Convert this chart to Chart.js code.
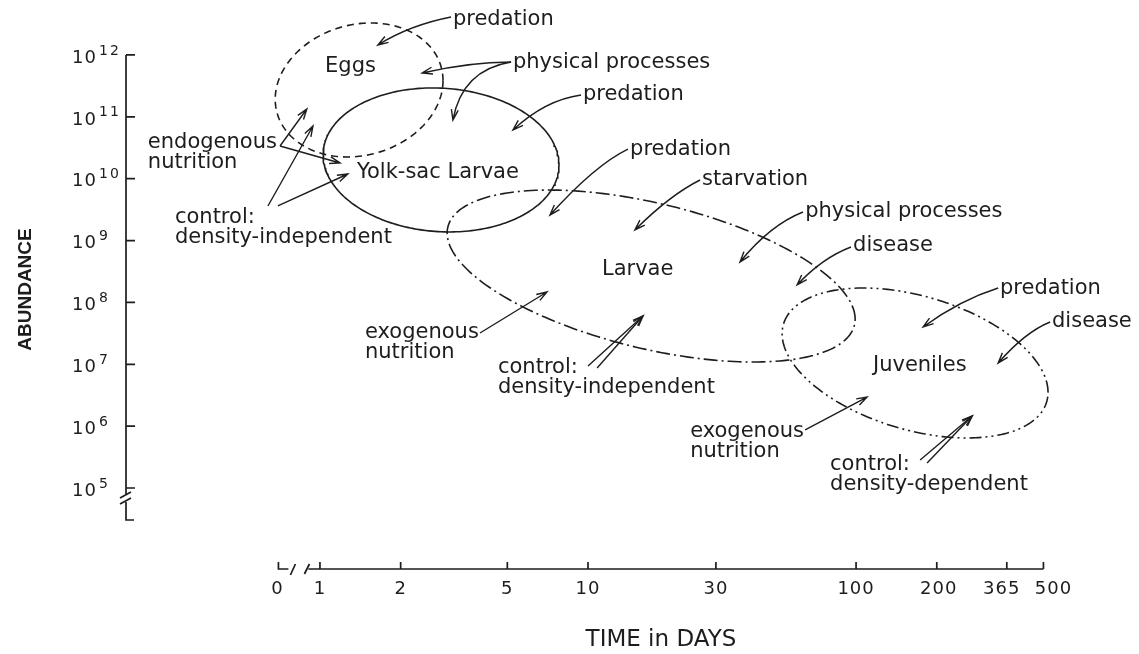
<!DOCTYPE html>
<html><head><meta charset="utf-8">
<script src="https://cdn.jsdelivr.net/npm/chart.js@4/dist/chart.umd.min.js"></script>
<style>html,body{margin:0;padding:0;background:#fff}#wrap{width:1139px;height:654px}</style>
</head><body><div id="wrap"><canvas id="c" width="1139" height="654"></canvas></div>
<script>
// ---- stage regions ----
const stageNames = ['Eggs', 'Yolk-sac Larvae', 'Larvae', 'Juveniles'];
const centerDays = [1.40, 2.83, 17.2, 166];
const centerAbundance = [2.72e11, 2.01e10, 2.67e8, 1.05e7];
const spanDecadesTime = [0.313, 0.440, 0.761, 0.496];
const spanDecadesAbundance = [1.083, 1.164, 1.390, 1.212];
const tiltDeg = [8, -4, -30, -23];
const stageDash = [[7, 5], [], [14, 4, 2, 4], [12, 4, 2, 4, 2, 4]];

// ---- axes ----
const xTickValues = [0.7, 1, 2, 5, 10, 30, 100, 200, 365, 500];
const xTickLabels = ['0', '1', '2', '5', '10', '30', '100', '200', '365', '500'];
const xLabelNudge = [-1, 0, 0, 0, 0, 0, 0, 2, -5, 10];
const yTickExponents = [5, 6, 7, 8, 9, 10, 11, 12];

// ---- annotations (log10 days, log10 abundance) ----
const noteTexts = ['predation', 'Eggs', 'physical processes', 'predation', 'Yolk-sac Larvae',
  'endogenous\nnutrition', 'control:\ndensity-independent', 'predation', 'starvation',
  'physical processes', 'disease', 'Larvae', 'exogenous\nnutrition', 'control:\ndensity-independent',
  'predation', 'disease', 'Juveniles', 'exogenous\nnutrition', 'control:\ndensity-dependent'];
const noteLogDays = [0.496, 0.019, 0.720, 0.981, 0.138, -0.642, -0.541, 1.157, 1.425, 1.810, 1.989,
  1.052, 0.168, 0.664, 2.537, 2.731, 2.063, 1.381, 1.903];
const noteLogAbund = [12.566, 11.806, 11.871, 11.353, 10.092, 10.577, 9.365, 10.464, 9.979, 9.462,
  8.912, 8.524, 7.506, 6.940, 8.217, 7.684, 6.972, 5.905, 5.372];
const arrowPaths = [
  [[0.489, 12.614], [0.336, 12.485], [0.216, 12.162]],
  [[0.713, 11.887], [0.560, 11.887], [0.381, 11.709]],
  [[0.713, 11.887], [0.530, 11.757], [0.496, 10.949]],
  [[0.974, 11.353], [0.840, 11.272], [0.720, 10.787]],
  [[-0.149, 10.529], null, [-0.049, 11.127]],
  [[-0.149, 10.529], null, [0.075, 10.254]],
  [[-0.194, 9.559], null, [-0.026, 10.852]],
  [[-0.157, 9.559], null, [0.104, 10.076]],
  [[1.149, 10.480], [1.026, 10.222], [0.858, 9.413]],
  [[1.418, 9.979], [1.306, 9.737], [1.175, 9.171]],
  [[1.802, 9.462], [1.679, 9.252], [1.567, 8.654]],
  [[1.981, 8.896], [1.873, 8.718], [1.780, 8.282]],
  [[0.597, 7.506], null, [0.847, 8.169]],
  [[1.000, 6.972], null, [1.205, 7.781]],
  [[1.034, 6.940], null, [1.205, 7.781]],
  [[2.530, 8.233], [2.388, 8.039], [2.250, 7.603]],
  [[2.724, 7.684], [2.631, 7.522], [2.530, 7.021]],
  [[1.810, 5.938], null, [2.041, 6.471]],
  [[2.239, 5.453], null, [2.433, 6.164]],
  [[2.265, 5.404], null, [2.433, 6.164]]
];

const INK = '#1d1d1d';
const FONT = '"DejaVu Sans", "Liberation Sans", sans-serif';

function outline(i) {
  const pts = [];
  const N = 240;
  const cx = Math.log10(centerDays[i]), cy = Math.log10(centerAbundance[i]);
  const t = tiltDeg[i] * Math.PI / 180;
  for (let k = 0; k <= N; k++) {
    const p = 2 * Math.PI * k / N;
    pts.push({ x: 10 ** (cx + spanDecadesTime[i] * Math.cos(p)),
               y: 10 ** (cy + spanDecadesAbundance[i] * Math.sin(p + t)) });
  }
  return pts;
}

const datasets = stageNames.map((n, i) => ({
  label: n, data: outline(i), showLine: true, pointRadius: 0, borderWidth: 1.6,
  borderColor: INK, borderDash: stageDash[i], fill: false, tension: 0
}));

const decor = {
  id: 'decor',
  afterDraw(chart) {
    const ctx = chart.ctx, xs = chart.scales.x, ys = chart.scales.y, ca = chart.chartArea;
    const P = (ld, la) => ({ x: xs.getPixelForValue(10 ** ld), y: ys.getPixelForValue(10 ** la) });
    ctx.save();
    ctx.strokeStyle = INK; ctx.fillStyle = INK; ctx.lineWidth = 1.7; ctx.lineCap = 'butt';
    // y axis
    const ax = ca.left;
    const yTop = ys.getPixelForValue(1e12), y5 = ys.getPixelForValue(1e5);
    ctx.beginPath();
    ctx.moveTo(ax, yTop); ctx.lineTo(ax, y5 + 6);
    ctx.moveTo(ax, y5 + 14); ctx.lineTo(ax, y5 + 32); ctx.lineTo(ax + 8, y5 + 32);
    ctx.moveTo(ax - 6, y5 + 10); ctx.lineTo(ax + 5, y5 + 4);
    ctx.moveTo(ax - 6, y5 + 16); ctx.lineTo(ax + 5, y5 + 10);
    yTickExponents.forEach(e => {
      const py = ys.getPixelForValue(10 ** e);
      ctx.moveTo(ax, py); ctx.lineTo(ax + 9, py);
    });
    ctx.stroke();
    ctx.textBaseline = 'middle';
    yTickExponents.forEach(e => {
      const py = ys.getPixelForValue(10 ** e);
      ctx.letterSpacing = '1px';
      ctx.font = '18px ' + FONT; ctx.textAlign = 'right';
      ctx.fillText('10', 97, py + 3);
      ctx.letterSpacing = '2px';
      ctx.font = '14px ' + FONT; ctx.textAlign = 'left';
      ctx.fillText(String(e), 99, py - 4);
    });
    // x axis
    const yAx = ca.bottom;
    const x0 = xs.getPixelForValue(xTickValues[0]);
    const xEnd = xs.getPixelForValue(xTickValues[xTickValues.length - 1]);
    ctx.beginPath();
    ctx.moveTo(x0, yAx - 7); ctx.lineTo(x0, yAx); ctx.lineTo(x0 + 10, yAx);
    ctx.moveTo(x0 + 12, yAx + 6); ctx.lineTo(x0 + 17, yAx - 5);
    ctx.moveTo(x0 + 26, yAx + 5); ctx.lineTo(x0 + 31, yAx - 5);
    ctx.moveTo(x0 + 30, yAx); ctx.lineTo(xEnd, yAx);
    xTickValues.slice(1).forEach(v => {
      const px = xs.getPixelForValue(v);
      ctx.moveTo(px, yAx); ctx.lineTo(px, yAx - 7);
    });
    ctx.stroke();
    ctx.letterSpacing = '1px';
    ctx.font = '18px ' + FONT; ctx.textAlign = 'center';
    xTickValues.forEach((v, i) => {
      ctx.fillText(xTickLabels[i], xs.getPixelForValue(v) + xLabelNudge[i], yAx + 20);
    });
    ctx.font = '23px ' + FONT;
    ctx.letterSpacing = '0px';
    ctx.fillText('TIME in DAYS', (x0 + xEnd) / 2, 640);
    // annotations
    ctx.font = '21px ' + FONT; ctx.textAlign = 'left';
    noteTexts.forEach((t, i) => {
      const p = P(noteLogDays[i], noteLogAbund[i]);
      t.split('\n').forEach((line, j) => ctx.fillText(line, p.x, p.y + j * 20));
    });
    ctx.lineWidth = 1.4;
    arrowPaths.forEach(a => {
      const s = P(a[0][0], a[0][1]);
      const e = P(a[2][0], a[2][1]);
      const c = a[1] ? P(a[1][0], a[1][1]) : null;
      ctx.beginPath(); ctx.moveTo(s.x, s.y);
      if (c) ctx.quadraticCurveTo(c.x, c.y, e.x, e.y); else ctx.lineTo(e.x, e.y);
      const from = c || s;
      const ang = Math.atan2(e.y - from.y, e.x - from.x);
      const L = 11, sp = 0.32;
      ctx.moveTo(e.x - L * Math.cos(ang - sp), e.y - L * Math.sin(ang - sp));
      ctx.lineTo(e.x, e.y);
      ctx.lineTo(e.x - L * Math.cos(ang + sp), e.y - L * Math.sin(ang + sp));
      ctx.stroke();
    });
    ctx.restore();
  }
};

new Chart(document.getElementById('c'), {
  type: 'scatter',
  data: { datasets },
  plugins: [decor],
  options: {
    responsive: false, animation: false,
    layout: { padding: { top: 10, right: 89, bottom: 0, left: 0 } },
    plugins: { legend: { display: false }, tooltip: { enabled: false } },
    scales: {
      x: {
        type: 'logarithmic', min: 0.189, max: 529,
        grid: { display: false }, border: { display: false },
        afterBuildTicks: s => { s.ticks = xTickValues.map(v => ({ value: v })); },
        afterFit: s => { s.height = 85; },
        ticks: { display: false, autoSkip: false, maxRotation: 0, minRotation: 0,
          callback: (v, i) => xTickLabels[i] }
      },
      y: {
        type: 'logarithmic', min: 10 ** 3.691, max: 10 ** 12.727,
        grid: { display: false }, border: { display: false },
        ticks: { display: false },
        afterFit: s => { s.width = 126; },
        title: { display: true, text: 'ABUNDANCE', color: INK,
          font: { family: '"Liberation Sans", Arial, sans-serif', size: 19, weight: 'bold' },
          padding: { top: 14, bottom: 0 } }
      }
    }
  }
});
</script></body></html>
